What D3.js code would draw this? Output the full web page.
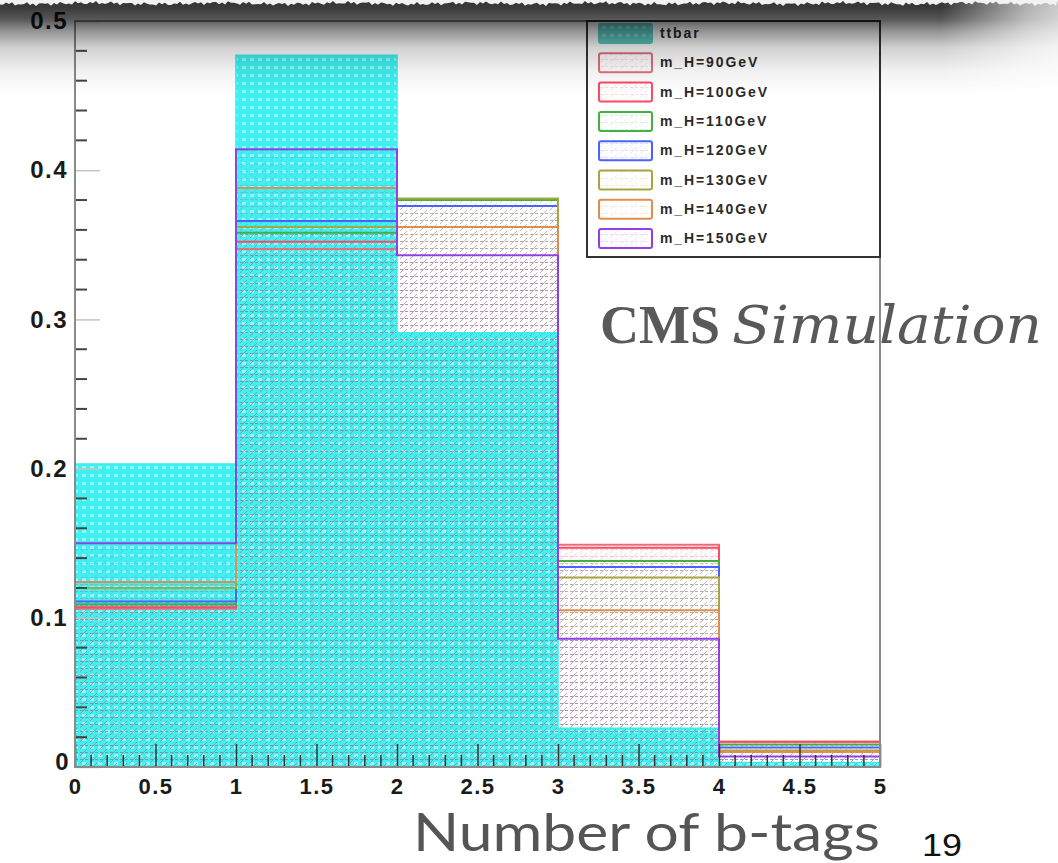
<!DOCTYPE html>
<html>
<head>
<meta charset="utf-8">
<script src="https://cdn.jsdelivr.net/npm/d3@7/dist/d3.min.js"></script>
<style>
  html, body { margin: 0; padding: 0; background: #ffffff; }
  svg { display: block; }
</style>
</head>
<body>
<svg id="chart" width="1058" height="863"></svg>
<script>
// Bin edges of the b-tag multiplicity histogram
const binEdges = [0, 1, 2, 3, 4, 5];

// Normalised fractions per bin (0,1,2,3,4 b-tags)
const ttbar   = [0.203, 0.477, 0.291, 0.026, 0.003];
const mH90    = [0.106, 0.347, 0.380, 0.149, 0.017];
const mH100   = [0.107, 0.352, 0.376, 0.147, 0.017];
const mH110   = [0.109, 0.358, 0.380, 0.138, 0.015];
const mH120   = [0.111, 0.366, 0.376, 0.134, 0.013];
const mH130   = [0.120, 0.362, 0.381, 0.127, 0.011];
const mH140   = [0.124, 0.388, 0.362, 0.105, 0.010];
const mH150   = [0.150, 0.414, 0.343, 0.086, 0.007];

const seriesNames  = ["ttbar", "m_H=90GeV", "m_H=100GeV", "m_H=110GeV", "m_H=120GeV", "m_H=130GeV", "m_H=140GeV", "m_H=150GeV"];
const seriesValues = [ttbar, mH90, mH100, mH110, mH120, mH130, mH140, mH150];
const seriesColors = ["#38eeee", "#e2707c", "#ff4a66", "#44b044", "#4a62ff", "#a8a640", "#e08e50", "#9040e4"];

const yMajorTicks = [0, 0.1, 0.2, 0.3, 0.4, 0.5];
const xMajorTicks = [0, 0.5, 1, 1.5, 2, 2.5, 3, 3.5, 4, 4.5, 5];

const svg = d3.select("#chart");
const W = 1058, H = 863;
const plot = { left: 75, right: 880, top: 21, bottom: 767 };

const x = d3.scaleLinear().domain([0, 5]).range([plot.left, plot.right]);
const y = d3.scaleLinear().domain([0, 0.5]).range([plot.bottom, plot.top]);

const defs = svg.append("defs");

// Cyan fill with a light grid of dots for the ttbar background
const pT = defs.append("pattern").attr("id", "pat-ttbar")
  .attr("patternUnits", "userSpaceOnUse").attr("width", 8).attr("height", 8);
pT.append("rect").attr("width", 8).attr("height", 8).attr("fill", "#3ef0f0");
pT.append("rect").attr("x", 2).attr("y", 2).attr("width", 4).attr("height", 3)
  .attr("fill", "#ffffff").attr("opacity", 0.45);

// Legend swatch for ttbar: softer teal
const pL = defs.append("pattern").attr("id", "pat-ttbar-leg")
  .attr("patternUnits", "userSpaceOnUse").attr("width", 8).attr("height", 8);
pL.append("rect").attr("width", 8).attr("height", 8).attr("fill", "#5ccdc5");
pL.append("rect").attr("x", 2).attr("y", 2).attr("width", 4).attr("height", 3)
  .attr("fill", "#ffffff").attr("opacity", 0.3);

// Light hatching for the signal histograms
seriesColors.forEach((c, i) => {
  if (i === 0) return;
  const p = defs.append("pattern").attr("id", "pat-" + i)
    .attr("patternUnits", "userSpaceOnUse").attr("width", 10).attr("height", 7);
  p.append("line").attr("x1", 0).attr("y1", 7).attr("x2", 7).attr("y2", 0)
    .attr("stroke", c).attr("stroke-width", 1).attr("opacity", 0.15);
  p.append("line").attr("x1", 0).attr("y1", 3.5).attr("x2", 10).attr("y2", 3.5)
    .attr("stroke", c).attr("stroke-width", 1).attr("stroke-dasharray", "3,2").attr("opacity", 0.2);
});

// Page background
svg.append("rect").attr("x", 0).attr("y", 0).attr("width", W).attr("height", H).attr("fill", "#ffffff");

const hist = svg.append("g");

function stepPoints(vals) {
  const pts = vals.map((v, i) => [binEdges[i], v]);
  pts.push([binEdges[binEdges.length - 1], vals[vals.length - 1]]);
  return pts;
}

const area = d3.area()
  .x(d => x(d[0])).y0(y(0)).y1(d => y(d[1]))
  .curve(d3.curveStepAfter);

const line = d3.line()
  .x(d => x(d[0])).y(d => y(d[1]))
  .curve(d3.curveStepAfter);

seriesValues.forEach((vals, i) => {
  const pts = stepPoints(vals);
  hist.append("path")
    .attr("d", area(pts))
    .attr("fill", i === 0 ? "url(#pat-ttbar)" : "url(#pat-" + i + ")");
});
seriesValues.forEach((vals, i) => {
  const pts = [[0, 0]].concat(stepPoints(vals)).concat([[5, 0]]);
  hist.append("path")
    .attr("d", line(pts))
    .attr("fill", "none")
    .attr("stroke", seriesColors[i])
    .attr("stroke-width", i === 0 ? 1.5 : 2);
});

const tickFont = "Liberation Sans, Arial, sans-serif";

// Y axis: major ticks pointing into the frame, minor ticks every 0.02
const yAxis = svg.append("g").attr("transform", `translate(${plot.left},0)`)
  .call(d3.axisLeft(y).tickValues(yMajorTicks).tickSize(-25).tickPadding(7)
    .tickFormat(d => d3.format("~g")(d)));
yAxis.select(".domain").remove();
yAxis.selectAll(".tick line").attr("stroke", "#c4c4c4").attr("stroke-width", 1.5);
yAxis.selectAll(".tick text")
  .attr("font-family", tickFont)
  .attr("font-size", 24).attr("font-weight", "bold").attr("letter-spacing", 1.5)
  .attr("fill", "#1a1a1a");
yAxis.selectAll(".tick").filter(d => d === 0).select("text")
  .attr("dy", "0.1em").attr("x", -5);

const yMinor = d3.range(0, 0.5001, 0.02).filter(v => Math.abs(v * 10 - Math.round(v * 10)) > 1e-6);
svg.append("g").selectAll("line").data(yMinor).join("line")
  .attr("x1", plot.left).attr("x2", plot.left + 12)
  .attr("y1", d => y(d)).attr("y2", d => y(d))
  .attr("stroke", "#444").attr("stroke-width", 2);

// X axis: ticks pointing up from the bottom edge
const xAxis = svg.append("g").attr("transform", `translate(0,${plot.bottom})`)
  .call(d3.axisBottom(x).tickValues(xMajorTicks).tickSize(-23).tickPadding(11)
    .tickFormat(d => d3.format("~g")(d)));
xAxis.select(".domain").remove();
xAxis.selectAll(".tick line").attr("stroke", "#333").attr("stroke-width", 1.5);
xAxis.selectAll(".tick text")
  .attr("font-family", tickFont)
  .attr("font-size", 22).attr("font-weight", "bold").attr("letter-spacing", 1.5)
  .attr("fill", "#1a1a1a");

const xMinor = d3.range(0, 5.0001, 0.1).filter(v => Math.abs(v * 2 - Math.round(v * 2)) > 1e-6);
svg.append("g").selectAll("line").data(xMinor).join("line")
  .attr("x1", d => x(d)).attr("x2", d => x(d))
  .attr("y1", plot.bottom).attr("y2", plot.bottom - 12)
  .attr("stroke", "#333").attr("stroke-width", 1.5);

// Frame
svg.append("rect")
  .attr("x", plot.left).attr("y", plot.top)
  .attr("width", plot.right - plot.left).attr("height", plot.bottom - plot.top)
  .attr("fill", "none").attr("stroke", "#8a8a8a").attr("stroke-width", 2);

// Legend
const leg = { x: 587, y: 21, w: 293, h: 236, rowTop: 33, rowStep: 29.3 };
const lg = svg.append("g");
lg.append("rect").attr("x", leg.x).attr("y", leg.y).attr("width", leg.w).attr("height", leg.h)
  .attr("fill", "#ffffff").attr("stroke", "#333").attr("stroke-width", 2);
seriesNames.forEach((name, i) => {
  const cy = leg.rowTop + i * leg.rowStep;
  lg.append("rect").attr("x", 599).attr("y", cy - 9).attr("width", 53).attr("height", 19)
    .attr("rx", 2)
    .attr("fill", i === 0 ? "url(#pat-ttbar-leg)" : "url(#pat-" + i + ")")
    .attr("stroke", i === 0 ? "#5ccdc5" : seriesColors[i]).attr("stroke-width", 2);
  lg.append("text").attr("x", 660).attr("y", cy + 5)
    .attr("font-family", tickFont)
    .attr("font-size", 14).attr("font-weight", "bold").attr("letter-spacing", 1.9)
    .attr("fill", "#2a2a2a")
    .text(name);
});

// CMS Simulation label
const cms = svg.append("text").attr("x", 600).attr("y", 343).attr("fill", "#595959");
cms.append("tspan").attr("font-family", "Liberation Serif, serif").attr("font-weight", "bold")
  .attr("font-size", 54).text("CMS");
cms.append("tspan").attr("font-family", "DejaVu Serif, serif").attr("font-style", "italic")
  .attr("font-size", 52).attr("x", 732).attr("textLength", 310).attr("lengthAdjust", "spacingAndGlyphs")
  .text("Simulation");

// Axis title and page number
svg.append("text").attr("x", 413).attr("y", 851)
  .attr("font-family", "Lato, sans-serif").attr("font-size", 52).attr("fill", "#555")
  .attr("textLength", 467).attr("lengthAdjust", "spacingAndGlyphs")
  .text("Number of b-tags");
svg.append("text").attr("x", 922).attr("y", 856)
  .attr("font-family", tickFont).attr("font-size", 31).attr("fill", "#111")
  .attr("textLength", 40).attr("lengthAdjust", "spacingAndGlyphs")
  .text("19");

// Shadow along the top edge of the slide image
const shadeGrad = defs.append("linearGradient").attr("id", "shade")
  .attr("x1", 0).attr("x2", 0).attr("y1", 0).attr("y2", 1);
[[0, 0.86], [0.08, 0.84], [0.2, 0.72], [0.32, 0.47], [0.5, 0.2], [0.75, 0.06], [1, 0]].forEach(s => {
  shadeGrad.append("stop").attr("offset", s[0]).attr("stop-color", "#000").attr("stop-opacity", s[1] * 0.92);
});
const fadeGrad = defs.append("linearGradient").attr("id", "fadeRight")
  .attr("x1", 0).attr("x2", 1).attr("y1", 0).attr("y2", 0);
fadeGrad.append("stop").attr("offset", "0%").attr("stop-color", "#fff");
fadeGrad.append("stop").attr("offset", "89%").attr("stop-color", "#fff");
fadeGrad.append("stop").attr("offset", "97%").attr("stop-color", "#666");
fadeGrad.append("stop").attr("offset", "100%").attr("stop-color", "#444");
const fadeMask = defs.append("mask").attr("id", "fadeMask");
fadeMask.append("rect").attr("x", 0).attr("y", 0).attr("width", W).attr("height", 140).attr("fill", "url(#fadeRight)");

svg.append("rect").attr("x", 0).attr("y", 0).attr("width", W).attr("height", 95)
  .attr("fill", "url(#shade)").attr("mask", "url(#fadeMask)");

// Ragged white edge
const edge = [];
for (let px = 0; px <= W; px += 3) {
  edge.push([px, 3.5 + 1.2 * Math.sin(px * 0.9) + 0.9 * Math.sin(px * 0.37 + 1.3) + 0.6 * Math.sin(px * 0.05)]);
}
const edgePath = "M0,0 " + edge.map(p => `L${p[0]},${p[1].toFixed(1)}`).join(" ") + ` L${W},0 Z`;
svg.append("path").attr("d", edgePath).attr("fill", "#f2f2f2");
</script>
</body>
</html>
